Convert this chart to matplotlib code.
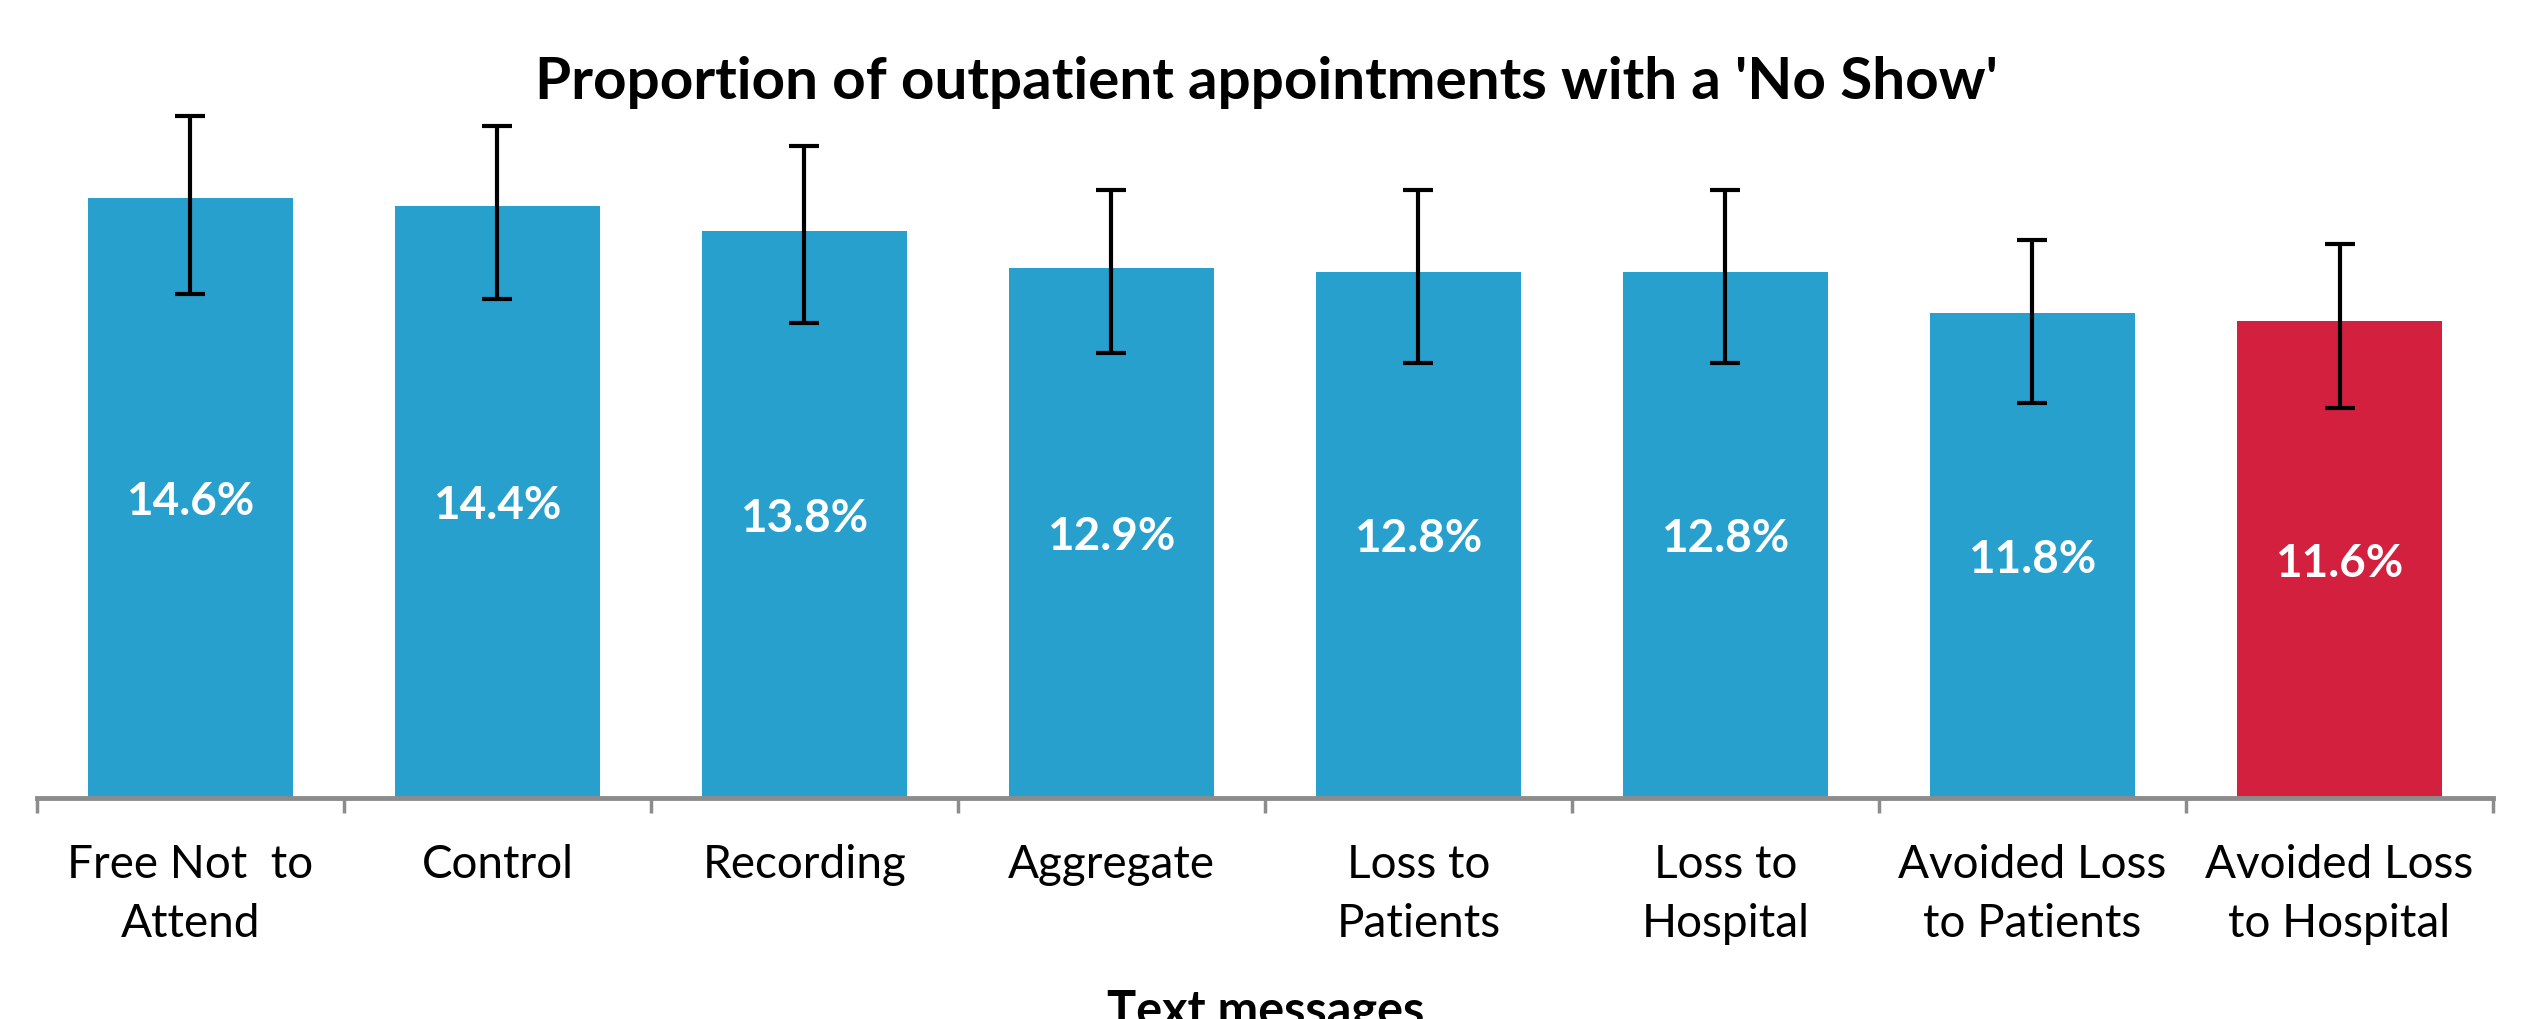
import matplotlib.pyplot as plt
import numpy as np

categories = ['Free Not  to\nAttend', 'Control', 'Recording', 'Aggregate',
              'Loss to\nPatients', 'Loss to\nHospital', 'Avoided Loss\nto Patients',
              'Avoided Loss\nto Hospital']
values = [14.6, 14.4, 13.8, 12.9, 12.8, 12.8, 11.8, 11.6]
ci_low = [12.26, 12.14, 11.55, 10.82, 10.58, 10.58, 9.62, 9.50]
ci_high = [16.59, 16.36, 15.87, 14.79, 14.79, 14.79, 13.58, 13.47]
colors = ['#28A0CD'] * 7 + ['#D2203E']

plt.rcParams['font.family'] = ['Lato', 'DejaVu Sans']

fig = plt.figure(figsize=(25.32, 10.19), dpi=100)
ax = fig.add_axes([0.0146, 0.2169, 0.97, 0.726])

x = np.arange(len(values))
vals = np.array(values)
yerr = [vals - np.array(ci_low), np.array(ci_high) - vals]

ax.bar(x, vals, width=0.67, color=colors)
ax.errorbar(x, vals, yerr=yerr, fmt='none', ecolor='black',
            elinewidth=3, capsize=11, capthick=3)

for xi, v in zip(x, values):
    ax.text(xi, v / 2 - 0.1, '%.1f%%' % v, ha='center', va='center',
            color='white', fontsize=33, fontweight='bold')

ax.set_xlim(-0.5, len(values) - 0.5)
ax.set_ylim(0, 18)

ax.spines['right'].set_color('none')
ax.spines['top'].set_color('none')
ax.spines['left'].set_color('none')
ax.spines['bottom'].set_color('#8C8C8C')
ax.spines['bottom'].set_linewidth(3.5)
ax.set_yticks([])

ax.set_xticks(x)
ax.set_xticklabels(categories, fontsize=33, linespacing=1.5)
ax.tick_params(axis='x', which='major', length=0, pad=33)
ax.set_xticks(np.arange(len(values) + 1) - 0.5, minor=True)
ax.tick_params(axis='x', which='minor', length=11, width=2.5,
               color='#8C8C8C', direction='out')

fig.text(0.5, 0.903, "Proportion of outpatient appointments with a 'No Show'",
         ha='center', va='baseline', fontsize=42, fontweight='bold')
fig.text(0.5, -0.006, 'Text messages', ha='center', va='baseline',
         fontsize=35, fontweight='bold')

fig.savefig('out.png', dpi=100)
